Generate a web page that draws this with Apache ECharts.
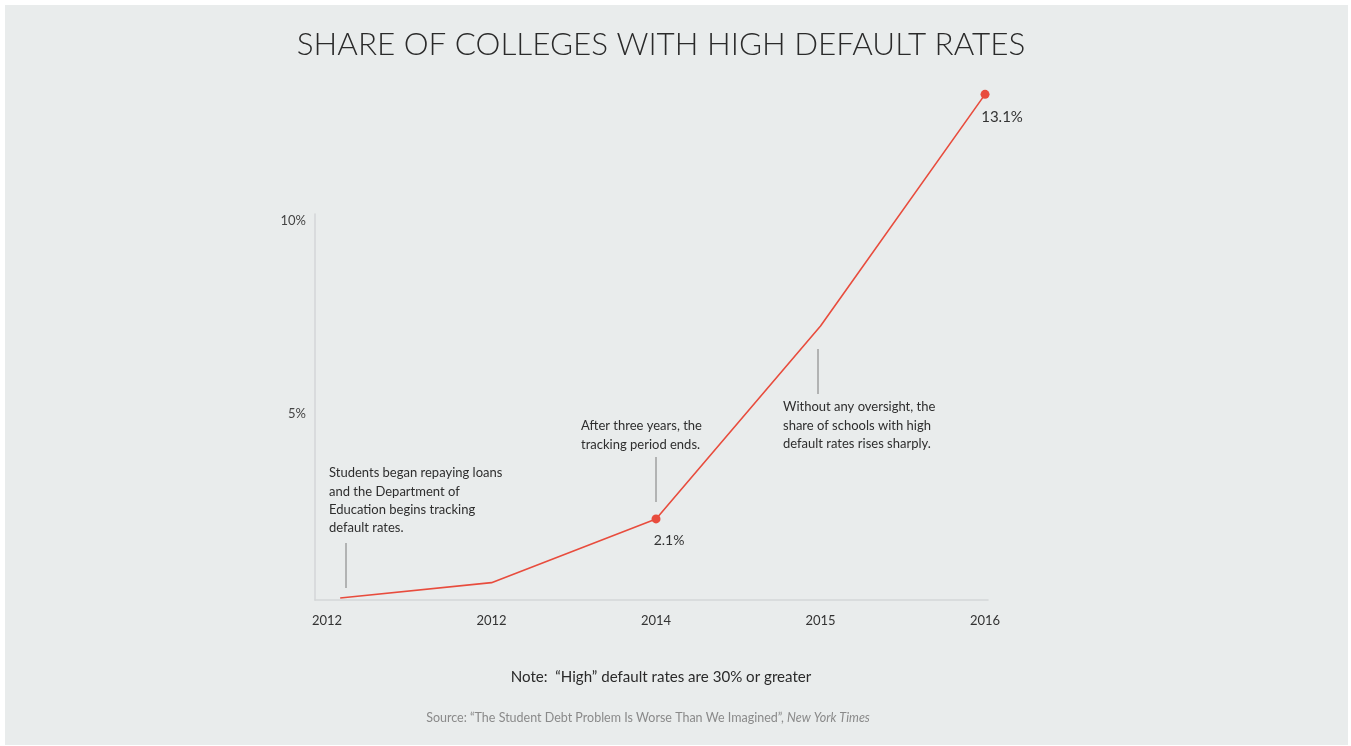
<!DOCTYPE html>
<html>
<head>
<meta charset="utf-8">
<script src="https://cdn.jsdelivr.net/npm/echarts@6/dist/echarts.min.js"></script>
<style>
html,body{margin:0;padding:0;background:#fff;}
#chart{width:1351px;height:746px;}
</style>
</head>
<body>
<div id="chart"></div>
<script>
// ---- data ----
var categories = ['2012', '2012', '2014', '2015', '2016'];
var xPositions = [0.08, 1, 2, 3, 4];          // position along the year axis
var shareValues = [0.05, 0.45, 2.1, 7.1, 13.1]; // % of colleges with high default rates
var markedIndex = [2, 4];                       // points with dot + label
var yTickLabels = { 5: '5%', 10: '10%' };

var FONT = 'Lato, "Open Sans", sans-serif';
var LINE = '#e84c3d';

var seriesData = shareValues.map(function (v, i) {
  var marked = markedIndex.indexOf(i) >= 0;
  var item = { value: [xPositions[i], v], symbolSize: marked ? 9 : 0 };
  if (marked) {
    item.label = {
      show: true,
      position: 'inside',
      offset: i === 4 ? [17, 23] : [13, 22],
      formatter: v.toFixed(1) + '%',
      color: '#333',
      fontSize: i === 4 ? 15 : 14,
      fontFamily: FONT
    };
  }
  return item;
});

var chart = echarts.init(document.getElementById('chart'), null, { renderer: 'canvas' });
chart.setOption({
  backgroundColor: '#ffffff',
  animation: false,
  grid: { left: 315, width: 673, top: 214, height: 386 },
  xAxis: {
    type: 'value',
    min: -0.073,
    max: 4.018,
    axisLine: { show: true, lineStyle: { color: '#d3d6d8', width: 1.5 } },
    axisTick: { show: false },
    splitLine: { show: false },
    axisLabel: {
      customValues: [0, 1, 2, 3, 4],
      formatter: function (v) { return categories[Math.round(v)]; },
      color: '#333', fontSize: 13, fontFamily: FONT, margin: 14
    }
  },
  yAxis: {
    type: 'value',
    min: 0, max: 10, interval: 5,
    axisLine: { show: true, onZero: false, lineStyle: { color: '#d3d6d8', width: 1.5 } },
    axisTick: { show: false },
    splitLine: { show: false },
    axisLabel: {
      formatter: function (v) { return yTickLabels[v] || ''; },
      color: '#444', fontSize: 13, fontFamily: FONT, margin: 9,
      verticalAlign: 'top'
    }
  },
  series: [{
    type: 'line',
    data: seriesData,
    clip: false,
    symbol: 'circle',
    showAllSymbol: true,
    lineStyle: { color: LINE, width: 1.6 },
    itemStyle: { color: LINE },
    emphasis: { disabled: true },
    z: 5
  }],
  graphic: [
    { type: 'rect', z: -10, silent: true, shape: { x: 5, y: 5, width: 1343, height: 740 }, style: { fill: '#e9ecec' } },
    { type: 'text', x: 661, y: 45, style: { text: 'SHARE OF COLLEGES WITH HIGH DEFAULT RATES', fill: '#2a2a2a', font: '300 31.4px ' + FONT, align: 'center', verticalAlign: 'middle' } },
    // annotation 1
    { type: 'line', shape: { x1: 346, y1: 543, x2: 346, y2: 588 }, style: { stroke: '#7a7a7a', lineWidth: 1 } },
    { type: 'text', x: 329, y: 464, style: { text: 'Students began repaying loans\nand the Department of\nEducation begins tracking\ndefault rates.', fill: '#2e2e2e', font: '13px ' + FONT, lineHeight: 18.3 } },
    // annotation 2
    { type: 'line', shape: { x1: 656, y1: 457, x2: 656, y2: 502 }, style: { stroke: '#7a7a7a', lineWidth: 1 } },
    { type: 'text', x: 581, y: 417, style: { text: 'After three years, the\ntracking period ends.', fill: '#2e2e2e', font: '13px ' + FONT, lineHeight: 18.3 } },
    // annotation 3
    { type: 'line', shape: { x1: 818, y1: 349, x2: 818, y2: 394 }, style: { stroke: '#7a7a7a', lineWidth: 1 } },
    { type: 'text', x: 783, y: 398, style: { text: 'Without any oversight, the\nshare of schools with high\ndefault rates rises sharply.', fill: '#2e2e2e', font: '13px ' + FONT, lineHeight: 18.3 } },
    // note & source
    { type: 'text', x: 661, y: 677, style: { text: 'Note:  \u201cHigh\u201d default rates are 30% or greater', fill: '#2a2a2a', font: '15.1px ' + FONT, align: 'center', verticalAlign: 'middle' } },
    { type: 'text', x: 648, y: 718, style: {
        text: '{n|Source: \u201cThe Student Debt Problem Is Worse Than We Imagined\u201d, }{i|New York Times}',
        align: 'center', verticalAlign: 'middle',
        rich: {
          n: { fill: '#8a8a8a', font: '12.5px ' + FONT },
          i: { fill: '#8a8a8a', font: 'italic 12.5px ' + FONT }
        } } }
  ]
});
</script>
</body>
</html>
